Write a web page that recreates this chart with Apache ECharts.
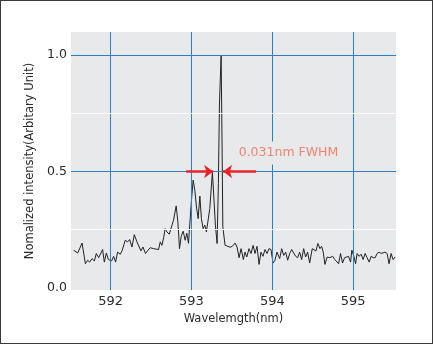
<!DOCTYPE html>
<html>
<head>
<meta charset="utf-8">
<script src="https://cdn.jsdelivr.net/npm/echarts@6/dist/echarts.min.js"></script>
<style>
  html, body { margin: 0; padding: 0; background: #fff; }
  #chart { position: absolute; left: 0; top: 0; width: 433px; height: 344px; }
  #frame { position: absolute; left: 0; top: 0; width: 433px; height: 344px; box-sizing: border-box; border: 1px solid #3a3a3a; pointer-events: none; }
</style>
</head>
<body>
<div id="chart"></div>
<div id="frame"></div>
<script>
// Emission spectrum: wavelength (nm) and normalized intensity
const wavelength = [
  591.543, 591.593, 591.647, 591.688, 591.716, 591.741, 591.770, 591.799, 591.823, 591.852,
  591.901, 591.922, 591.947, 591.972, 592.012, 592.037, 592.062, 592.086, 592.120, 592.144,
  592.181, 592.210, 592.235, 592.264, 592.293, 592.326, 592.375, 592.400, 592.432, 592.462,
  592.490, 592.531, 592.552, 592.593, 592.614, 592.635, 592.657, 592.675, 592.696, 592.725,
  592.749, 592.778, 592.811, 592.832, 592.852, 592.873, 592.898, 592.922, 592.943, 592.963,
  592.984, 593.000, 593.021, 593.042, 593.062, 593.083, 593.104, 593.123, 593.144, 593.165,
  593.185, 593.206, 593.227, 593.259, 593.280, 593.296, 593.317, 593.333, 593.346, 593.367,
  593.379, 593.388, 593.416, 593.449, 593.478, 593.506, 593.540, 593.564, 593.589, 593.614,
  593.642, 593.663, 593.684, 593.712, 593.737, 593.762, 593.786, 593.811, 593.836, 593.860,
  593.885, 593.910, 593.935, 593.959, 593.984, 594.009, 594.033, 594.058, 594.091, 594.116,
  594.141, 594.165, 594.190, 594.215, 594.240, 594.264, 594.289, 594.314, 594.338, 594.363,
  594.388, 594.412, 594.437, 594.462, 594.494, 594.515, 594.540, 594.564, 594.589, 594.610,
  594.630, 594.651, 594.679, 594.712, 594.746, 594.774, 594.820, 594.844, 594.869, 594.894,
  594.943, 594.968, 594.984, 595.009, 595.030, 595.049, 595.074, 595.099, 595.123, 595.148,
  595.173, 595.198, 595.222, 595.247, 595.272, 595.296, 595.321, 595.346, 595.370, 595.395,
  595.420, 595.444, 595.469, 595.494, 595.519
];
const intensity = [
  0.161, 0.149, 0.192, 0.103, 0.118, 0.110, 0.125, 0.115, 0.147, 0.129,
  0.164, 0.110, 0.149, 0.121, 0.115, 0.135, 0.110, 0.153, 0.144, 0.161,
  0.204, 0.197, 0.207, 0.175, 0.228, 0.197, 0.158, 0.175, 0.147, 0.161,
  0.172, 0.168, 0.161, 0.164, 0.197, 0.182, 0.217, 0.254, 0.240, 0.230,
  0.225, 0.290, 0.352, 0.283, 0.168, 0.221, 0.243, 0.204, 0.234, 0.191,
  0.187, 0.376, 0.463, 0.419, 0.347, 0.297, 0.394, 0.297, 0.254, 0.269,
  0.240, 0.233, 0.341, 0.498, 0.369, 0.269, 0.190, 0.448, 0.786, 1.000,
  0.592, 0.261, 0.182, 0.178, 0.174, 0.178, 0.192, 0.175, 0.129, 0.168,
  0.121, 0.153, 0.132, 0.168, 0.147, 0.182, 0.147, 0.178, 0.100, 0.153,
  0.135, 0.164, 0.147, 0.168, 0.164, 0.106, 0.118, 0.153, 0.125, 0.168,
  0.139, 0.153, 0.118, 0.147, 0.164, 0.161, 0.135, 0.129, 0.153, 0.121,
  0.168, 0.132, 0.153, 0.106, 0.168, 0.172, 0.158, 0.190, 0.168, 0.178,
  0.153, 0.100, 0.132, 0.129, 0.135, 0.121, 0.103, 0.147, 0.106, 0.129,
  0.135, 0.110, 0.161, 0.135, 0.103, 0.147, 0.135, 0.144, 0.121, 0.147,
  0.129, 0.110, 0.135, 0.129, 0.129, 0.147, 0.153, 0.147, 0.149, 0.153,
  0.147, 0.103, 0.147, 0.121, 0.132
];

// Axis ticks and reference lines
const xTicks = [592, 593, 594, 595];
const yTicks = [0, 0.5, 1.0];
const yMinorLines = [0.25, 0.75];

// FWHM annotation: arrows pointing at the main line at half maximum
const fwhmLevel = 0.5;
const fwhmArrows = [[592.935, 593.268], [593.799, 593.391]];
const fwhmText = '0.031nm FWHM';
const fwhmTextAt = [594.2, 0.579];

const BLUE = '#2b7ec9';
const FONT = 'DejaVu Sans';

const gridLines = [];
xTicks.forEach(v => gridLines.push({ xAxis: v, lineStyle: { color: BLUE } }));
yTicks.filter(v => v > 0).forEach(v => gridLines.push({ yAxis: v, lineStyle: { color: BLUE } }));
yMinorLines.forEach(v => gridLines.push({ yAxis: v, lineStyle: { color: '#ffffff' } }));

const chart = echarts.init(document.getElementById('chart'), null, { renderer: 'canvas' });
chart.setOption({
  animation: false,
  backgroundColor: '#ffffff',
  grid: {
    left: 71, right: 37, top: 32, bottom: 54,
    show: true, backgroundColor: '#e8e9eb', borderWidth: 0
  },
  xAxis: {
    type: 'value', min: 591.51, max: 595.53,
    name: 'Wavelemgth(nm)', nameLocation: 'middle', nameGap: 23,
    nameTextStyle: { fontFamily: FONT, fontSize: 11.5, color: '#2a2a2a' },
    axisLine: { show: false }, axisTick: { show: false }, splitLine: { show: false },
    axisLabel: {
      customValues: xTicks, margin: 5,
      fontFamily: FONT, fontSize: 13, color: '#2a2a2a',
      formatter: v => String(v)
    }
  },
  yAxis: {
    type: 'value', min: -0.01, max: 1.1,
    name: 'Nomalized intensity(Arbitary Unit)', nameLocation: 'middle', nameGap: 29,
    nameTextStyle: { fontFamily: FONT, fontSize: 11.5, color: '#2a2a2a' },
    axisLine: { show: false }, axisTick: { show: false }, splitLine: { show: false },
    axisLabel: {
      customValues: yTicks, margin: 4,
      fontFamily: FONT, fontSize: 12.5, color: '#2a2a2a',
      formatter: v => v.toFixed(1)
    }
  },
  series: [
    {
      // reference grid drawn beneath the spectrum
      type: 'line', data: [], z: 1, silent: true,
      markLine: {
        silent: true, symbol: 'none', animation: false,
        label: { show: false },
        lineStyle: { type: 'solid', width: 1 },
        data: gridLines
      }
    },
    {
      type: 'line', z: 3,
      data: wavelength.map((w, i) => [w, intensity[i]]),
      showSymbol: false, symbol: 'none',
      lineStyle: { color: '#222222', width: 1 },
      markLine: {
        silent: true, animation: false,
        symbol: ['none', 'arrow'], symbolSize: [10, 9],
        label: { show: false },
        lineStyle: { color: '#e8242b', width: 2.5, type: 'solid' },
        data: fwhmArrows.map(a => [{ coord: [a[0], fwhmLevel] }, { coord: [a[1], fwhmLevel] }])
      },
      markPoint: {
        silent: true, animation: false,
        symbol: 'circle', symbolSize: 0,
        data: [{
          coord: fwhmTextAt,
          label: {
            show: true, position: 'inside', formatter: fwhmText,
            fontFamily: FONT, fontSize: 12.5, color: '#f08470',
            backgroundColor: '#e8e9eb', padding: [5, 2]
          }
        }]
      }
    }
  ]
});
</script>
</body>
</html>
